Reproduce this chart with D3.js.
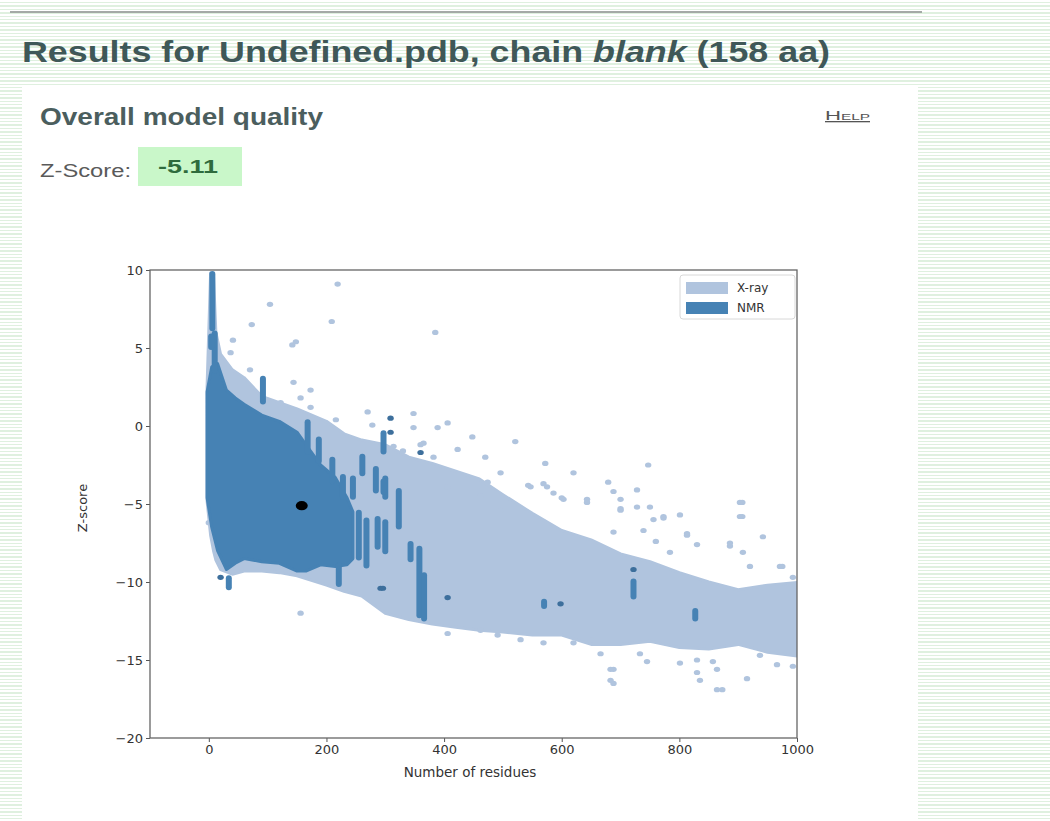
<!DOCTYPE html>
<html>
<head>
<meta charset="utf-8">
<script src="https://cdn.jsdelivr.net/npm/d3@7"></script>
<style>
  html, body { margin: 0; padding: 0; }
  body {
    width: 1050px; height: 821px; overflow: hidden;
    background: repeating-linear-gradient(to bottom, #ffffff 0, #ffffff 2px, #dff0df 2px, #dff0df 3.4px);
  }
  svg { display: block; }
</style>
</head>
<body>
<script>
// X-ray cloud outline (residues, upper / lower Z-score)
const xrayRes  = [-3, 3, 8, 12, 20, 40, 60, 90, 120, 150, 200, 230, 260, 300, 340, 380, 420, 460, 500, 550, 600, 650, 700, 750, 800, 850, 900, 950, 1010];
const xrayHigh = [2.5, 9.8, 9.6, 6.0, 4.6, 3.6, 3.1, 1.9, 1.5, 1.1, 0.3, -0.5, -0.9, -1.2, -2.0, -2.4, -2.9, -3.4, -4.4, -5.6, -6.7, -7.3, -8.2, -8.7, -9.4, -10.0, -10.5, -10.2, -10.0];
const xrayLow  = [-4.8, -7.0, -8.0, -8.6, -9.2, -9.5, -9.3, -9.3, -9.4, -9.6, -10.2, -10.6, -10.9, -12.0, -12.4, -12.7, -12.9, -13.1, -13.2, -13.4, -13.4, -14.0, -14.0, -13.8, -14.2, -14.3, -14.0, -14.5, -14.8];

// X-ray structures lying outside the dense cloud
const xrayDotRes = [219, 104, 73, 209, 142, 148, 41, 37, 70, 385, 144, 173, 122, 156, 173, 216, 270, 278, 348, 389, 406, 0, 156,
  348, 448, 521, 572, 620, 679, 747, 728, 728, 907, 907, 942, 886, 813, 773, 801, 688, 643, 575, 496, 547, 971, 993,
  688, 688, 745, 835, 873, 915, 966, 993, 569, 620, 801, 857, 937, 330, 360, 470, 600, 700, 760,
  688, 643, 700, 700, 750, 756, 773, 813, 830, 903, 903, 886, 908, 920, 975, 739, 784, 603,
  683, 683, 830, 830, 864, 864, 649, 666, 733,
  314, 365, 382, 423, 474, 543, 569, 586, 496, 462, 406,
  406, 462, 491, 530];
const xrayDotZ = [9.1, 7.8, 6.5, 6.7, 5.2, 5.4, 5.5, 4.7, 3.6, 6.0, 2.8, 2.3, 1.5, 1.8, 1.2, 0.4, 0.9, 0.06, 0.8, -0.1, 0.2, -6.2, -12.0,
  -0.1, -0.7, -1.0, -2.4, -3.0, -3.6, -2.5, -4.1, -5.2, -4.9, -5.8, -7.1, -7.5, -6.9, -5.8, -5.7, -6.8, -4.7, -3.9, -3.0, -3.9, -9.0, -9.7,
  -15.6, -16.5, -15.1, -16.3, -16.9, -16.2, -15.3, -15.4, -13.9, -13.9, -15.2, -15.1, -14.7, -1.6, -1.2, -2.0, -4.6, -5.3, -7.4,
  -4.2, -4.9, -4.7, -5.4, -5.2, -6.0, -5.9, -7.0, -7.6, -4.9, -5.8, -7.7, -8.1, -9.0, -9.0, -6.7, -8.1, -4.7,
  -15.6, -16.3, -15.0, -15.8, -15.6, -16.9, -13.7, -14.6, -14.6,
  -1.3, -1.1, -2.0, -1.5, -3.6, -3.8, -3.7, -4.3, -5.4, -4.5, -3.9,
  -13.3, -13.1, -13.4, -13.7];

// NMR cloud outline
const nmrRes  = [-3, 5, 15, 30, 45, 60, 90, 120, 150, 165, 190, 215, 235, 245];
const nmrHigh = [2.2, 3.8, 4.0, 2.3, 1.8, 1.4, 0.7, 0.3, -0.4, -1.2, -2.5, -3.3, -4.6, -5.5];
const nmrLow  = [-4.6, -6.5, -8.0, -9.2, -8.8, -8.5, -8.7, -8.8, -9.3, -9.3, -8.9, -9.0, -8.9, -8.5];

// NMR vertical runs (residues, top Z, bottom Z)
const nmrRunRes    = [6, 10, 92, 168, 187, 210, 228, 245, 261, 284, 297, 300, 255, 268, 287, 300, 221, 34, 297, 323, 343, 358, 366, 570, 722, 827, 4];
const nmrRunTop    = [9.8, 6.0, 3.1, 0.3, -0.8, -2.1, -3.2, -3.3, -1.9, -2.7, -0.4, -3.3, -5.5, -6.0, -5.9, -6.1, -8.9, -9.7, -3.5, -4.1, -7.5, -7.8, -9.5, -11.2, -9.9, -11.8, 5.8];
const nmrRunBottom = [6.2, 3.5, 1.5, -1.7, -2.3, -3.6, -4.6, -4.6, -3.1, -4.2, -1.7, -4.6, -8.5, -9.0, -7.8, -8.1, -10.2, -10.4, -4.3, -6.5, -8.6, -12.2, -12.4, -11.6, -11.0, -12.4, 5.0];

// single NMR structures
const nmrDotRes = [309, 309, 360, 292, 406, 598, 722, 20, 296];
const nmrDotZ   = [0.5, -0.4, -1.7, -10.4, -11.0, -11.4, -9.2, -9.7, -10.4];

// the model under assessment
const modelRes = 158;
const modelZ = -5.11;

const xTicks = [0, 200, 400, 600, 800, 1000];
const yTicks = [10, 5, 0, -5, -10, -15, -20];
const legendItems = ['X-ray', 'NMR'];

const W = 1050, H = 821;
const svg = d3.select('body').append('svg').attr('width', W).attr('height', H);
const htmlFont = 'Liberation Sans, Arial, sans-serif';

// top rule
svg.append('rect').attr('x', 10).attr('y', 11).attr('width', 912).attr('height', 2).attr('fill', '#a4aaa6');

svg.append('text')
  .attr('x', 22).attr('y', 62)
  .attr('font-family', htmlFont)
  .attr('font-weight', 'bold').attr('font-size', 30)
  .attr('fill', '#3f5858')
  .attr('textLength', 808).attr('lengthAdjust', 'spacingAndGlyphs')
  .html('Results for Undefined.pdb, chain <tspan font-style="italic">blank</tspan> (158 aa)');

// white panel
svg.append('rect').attr('x', 22).attr('y', 87).attr('width', 896).attr('height', H - 87).attr('fill', '#ffffff');

svg.append('text')
  .attr('x', 40).attr('y', 125)
  .attr('font-family', htmlFont)
  .attr('font-weight', 'bold').attr('font-size', 23)
  .attr('fill', '#4b5e5e')
  .attr('textLength', 283).attr('lengthAdjust', 'spacingAndGlyphs')
  .text('Overall model quality');

svg.append('text')
  .attr('x', 825).attr('y', 120)
  .attr('font-family', htmlFont)
  .attr('font-size', 13).attr('fill', '#555')
  .style('font-variant', 'small-caps')
  .attr('text-decoration', 'underline')
  .attr('textLength', 45).attr('lengthAdjust', 'spacingAndGlyphs')
  .text('Help');

svg.append('text')
  .attr('x', 40).attr('y', 177)
  .attr('font-family', htmlFont)
  .attr('font-size', 18).attr('fill', '#5a5a5a')
  .attr('textLength', 91).attr('lengthAdjust', 'spacingAndGlyphs')
  .text('Z-Score:');

svg.append('rect').attr('x', 138).attr('y', 147).attr('width', 104).attr('height', 39).attr('fill', '#c9f7c9');
svg.append('text')
  .attr('x', 158).attr('y', 173)
  .attr('font-family', htmlFont)
  .attr('font-weight', 'bold').attr('font-size', 18)
  .attr('fill', '#2f6b3d')
  .attr('textLength', 60).attr('lengthAdjust', 'spacingAndGlyphs')
  .text('-5.11');

// plot
const plotL = 150, plotR = 797, plotT = 270, plotB = 738;
const x = d3.scaleLinear().domain([-100, 1000]).range([plotL, plotR]);
const y = d3.scaleLinear().domain([-20, 10]).range([plotB, plotT]);

svg.append('clipPath').attr('id', 'plotclip')
  .append('rect').attr('x', plotL).attr('y', plotT).attr('width', plotR - plotL).attr('height', plotB - plotT);

const plot = svg.append('g').attr('clip-path', 'url(#plotclip)');
const xrayCol = '#b0c4de';
const nmrCol = '#4682b4';

const area = d3.area().curve(d3.curveLinear);

plot.append('path')
  .datum(xrayRes.map((r, i) => [r, xrayHigh[i], xrayLow[i]]))
  .attr('d', area.x(d => x(d[0])).y0(d => y(d[2])).y1(d => y(d[1])))
  .attr('fill', xrayCol).attr('stroke', xrayCol).attr('stroke-width', 3).attr('stroke-linejoin', 'round');

plot.selectAll('.xdot')
  .data(xrayDotRes.map((r, i) => [r, xrayDotZ[i]]))
  .enter().append('ellipse')
  .attr('class', 'xdot')
  .attr('cx', d => x(d[0])).attr('cy', d => y(d[1]))
  .attr('rx', 3.2).attr('ry', 2.6)
  .attr('fill', xrayCol);

plot.append('path')
  .datum(nmrRes.map((r, i) => [r, nmrHigh[i], nmrLow[i]]))
  .attr('d', area.x(d => x(d[0])).y0(d => y(d[2])).y1(d => y(d[1])))
  .attr('fill', nmrCol).attr('stroke', nmrCol).attr('stroke-width', 3).attr('stroke-linejoin', 'round');

plot.selectAll('.nrun')
  .data(nmrRunRes.map((r, i) => [r, nmrRunTop[i], nmrRunBottom[i]]))
  .enter().append('rect')
  .attr('class', 'nrun')
  .attr('x', d => x(d[0]) - 3).attr('width', 6)
  .attr('y', d => y(d[1]) - 2).attr('height', d => y(d[2]) - y(d[1]) + 4)
  .attr('rx', 3)
  .attr('fill', nmrCol);

plot.selectAll('.ndot')
  .data(nmrDotRes.map((r, i) => [r, nmrDotZ[i]]))
  .enter().append('ellipse')
  .attr('class', 'ndot')
  .attr('cx', d => x(d[0])).attr('cy', d => y(d[1]))
  .attr('rx', 3.2).attr('ry', 2.6)
  .attr('fill', '#3d6f9c');

plot.append('ellipse')
  .attr('cx', x(modelRes)).attr('cy', y(modelZ))
  .attr('rx', 6).attr('ry', 4.6)
  .attr('fill', '#000');

// axes
const axisFont = 'DejaVu Sans, sans-serif';
const xAxis = svg.append('g')
  .attr('transform', 'translate(0,' + plotB + ')')
  .call(d3.axisBottom(x).tickValues(xTicks).tickSize(4).tickPadding(3).tickFormat(d3.format('d')));
const yAxis = svg.append('g')
  .attr('transform', 'translate(' + plotL + ',0)')
  .call(d3.axisLeft(y).tickValues(yTicks).tickSize(4).tickPadding(3).tickFormat(d => d < 0 ? '\u2212' + Math.abs(d) : d));

[xAxis, yAxis].forEach(g => {
  g.select('.domain').remove();
  g.selectAll('line').attr('stroke', '#555');
  g.selectAll('text').attr('font-family', axisFont).attr('font-size', 13).attr('fill', '#333');
});

svg.append('rect')
  .attr('x', plotL).attr('y', plotT).attr('width', plotR - plotL).attr('height', plotB - plotT)
  .attr('fill', 'none').attr('stroke', '#666').attr('stroke-width', 1.3);

svg.append('text')
  .attr('x', 470).attr('y', 777).attr('text-anchor', 'middle')
  .attr('font-family', axisFont).attr('font-size', 13.5).attr('fill', '#333')
  .text('Number of residues');

svg.append('text')
  .attr('transform', 'translate(87,508) rotate(-90)')
  .attr('text-anchor', 'middle')
  .attr('font-family', axisFont).attr('font-size', 13).attr('fill', '#333')
  .text('Z-score');

// legend
const legend = svg.append('g').attr('transform', 'translate(680,275)');
legend.append('rect').attr('width', 115).attr('height', 44).attr('rx', 3)
  .attr('fill', '#fff').attr('stroke', '#d8d8d8');
legendItems.forEach((name, i) => {
  legend.append('rect').attr('x', 6).attr('y', 7 + i * 20).attr('width', 42).attr('height', 12)
    .attr('fill', i === 0 ? xrayCol : nmrCol);
  legend.append('text').attr('x', 57).attr('y', 17 + i * 20)
    .attr('font-family', axisFont).attr('font-size', 12).attr('fill', '#333')
    .text(name);
});
</script>
</body>
</html>
